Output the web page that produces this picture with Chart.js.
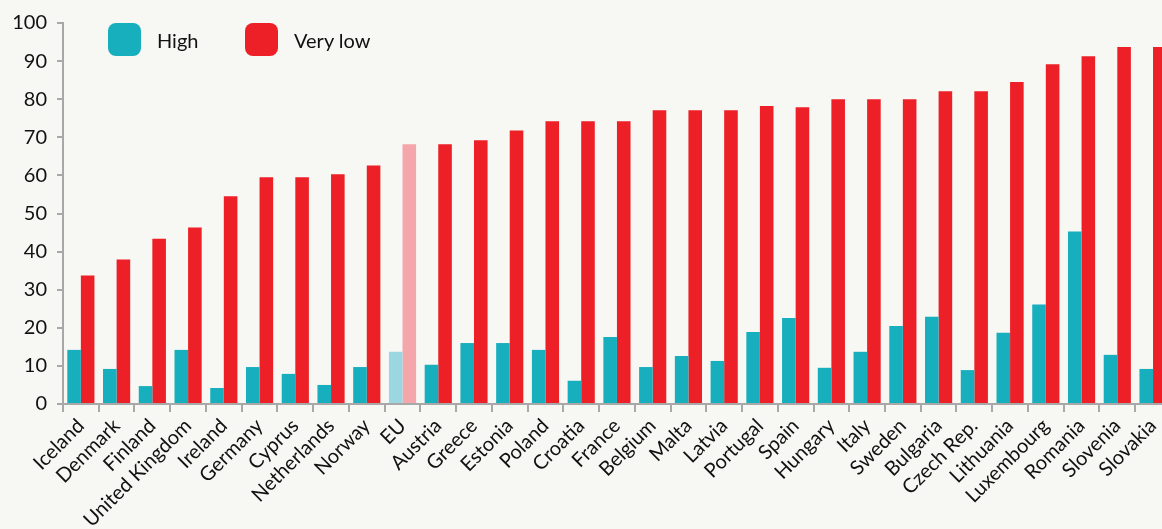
<!DOCTYPE html>
<html>
<head>
<meta charset="utf-8">
<script src="https://cdn.jsdelivr.net/npm/chart.js@4/dist/chart.umd.min.js"></script>
<style>
  html, body { margin: 0; padding: 0; background: #F7F7F3; overflow: hidden; }
  #wrap { width: 1172px; height: 529px; position: relative; }
  .lg { position: absolute; top: 23px; height: 33px; display: flex; align-items: center; font-family: Lato, "Open Sans", sans-serif; font-size: 20px; color: #111; }
  .lg span.box { display: inline-block; width: 33px; height: 33px; border-radius: 8px; margin-right: 16px; }
</style>
</head>
<body>
<div id="wrap">
  <canvas id="c"></canvas>
  <div class="lg" id="lg1" style="left:108px"><span class="box"></span><span class="txt"></span></div>
  <div class="lg" id="lg2" style="left:245px"><span class="box"></span><span class="txt"></span></div>
</div>
<script>
const categories = ["Iceland","Denmark","Finland","United Kingdom","Ireland","Germany","Cyprus","Netherlands","Norway","EU","Austria","Greece","Estonia","Poland","Croatia","France","Belgium","Malta","Latvia","Portugal","Spain","Hungary","Italy","Sweden","Bulgaria","Czech Rep.","Lithuania","Luxembourg","Romania","Slovenia","Slovakia"];
const seriesNames = ["High", "Very low"];
const highValues = [14.2,9.2,4.7,14.2,4.2,9.7,7.9,5.0,9.7,13.7,10.3,16.0,16.0,14.2,6.1,17.6,9.7,12.6,11.3,18.9,22.6,9.5,13.7,20.5,22.9,8.9,18.7,26.1,45.3,12.9,9.2];
const veryLowValues = [33.7,37.9,43.4,46.3,54.5,59.5,59.5,60.3,62.6,68.2,68.2,69.2,71.8,74.2,74.2,74.2,77.1,77.1,77.1,78.2,77.9,80.0,80.0,80.0,82.1,82.1,84.5,89.2,91.3,93.7,93.7];
const yTicks = [0,10,20,30,40,50,60,70,80,90,100];

const TEAL = '#17AEBD', TEAL_L = '#9BD7E0', RED = '#ED1F27', RED_L = '#F5A6AA';
const FONT = 'Lato, "Open Sans", sans-serif';

// HTML legend
[[TEAL, 'lg1'], [RED, 'lg2']].forEach(([col, id], i) => {
  const el = document.getElementById(id);
  el.querySelector('.box').style.background = col;
  el.querySelector('.txt').textContent = seriesNames[i];
});

new Chart(document.getElementById('c'), {
  type: 'bar',
  data: {
    labels: categories,
    datasets: [
      { label: seriesNames[0], data: highValues, backgroundColor: categories.map(c => c === 'EU' ? TEAL_L : TEAL), borderWidth: 0 },
      { label: seriesNames[1], data: veryLowValues, backgroundColor: categories.map(c => c === 'EU' ? RED_L : RED), borderWidth: 0 }
    ]
  },
  options: {
    responsive: true,
    maintainAspectRatio: false,
    animation: false,
    layout: { padding: { top: 23, right: 0, left: 0, bottom: 0 } },
    datasets: { bar: { categoryPercentage: 0.76, barPercentage: 1.0 } },
    plugins: {
      tooltip: { enabled: false },
      legend: { display: false }
    },
    scales: {
      x: {
        grid: { display: true, drawOnChartArea: false, drawTicks: true, tickLength: 8, color: '#A8A8A8', lineWidth: 2, offset: true },
        border: { display: true, color: '#A8A8A8', width: 2 },
        ticks: { color: '#111', font: { family: FONT, size: 20 }, minRotation: 45, maxRotation: 45, autoSkip: false, padding: 2 },
        afterFit: (s) => { s.height = 125; }
      },
      y: {
        min: 0, max: 100,
        afterBuildTicks: (s) => { s.ticks = yTicks.map(v => ({ value: v })); },
        grid: { display: true, drawOnChartArea: false, drawTicks: true, tickLength: 6, color: '#A8A8A8', lineWidth: 2 },
        border: { display: true, color: '#A8A8A8', width: 2 },
        ticks: { color: '#111', font: { family: FONT, size: 20 }, padding: 10 },
        afterFit: (s) => { s.width = 63; }
      }
    }
  }
});
</script>
</body>
</html>
